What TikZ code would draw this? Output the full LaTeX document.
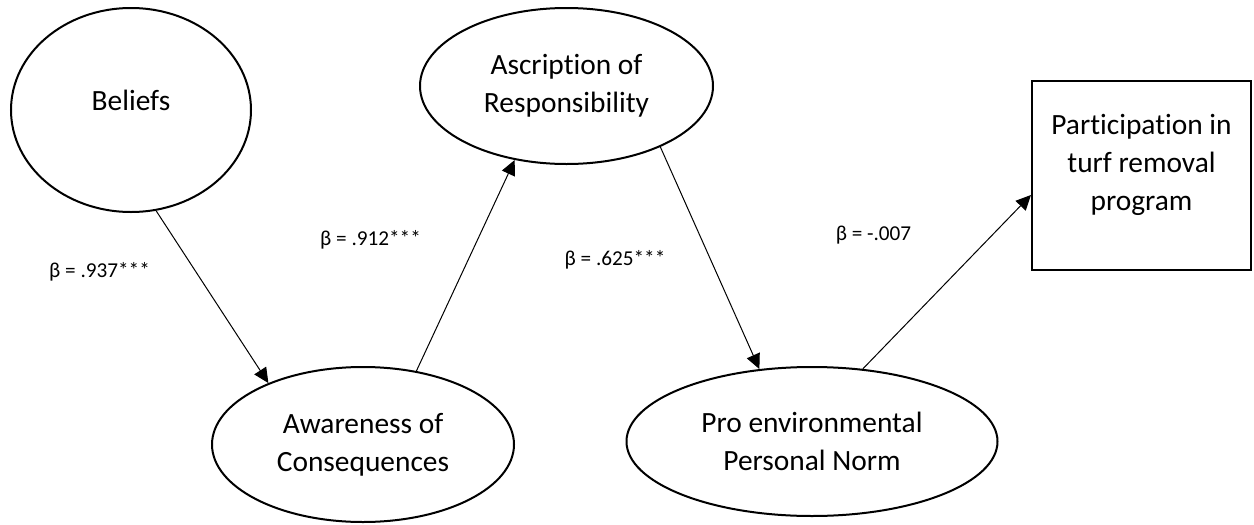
\documentclass[tikz,border=0pt]{standalone}
\usepackage{fontspec}
\setmainfont{Carlito}[Ligatures={NoCommon,NoContextual},RawFeature={-liga;-clig;-dlig}]
\usetikzlibrary{shapes.geometric,arrows.meta}
\begin{document}
\begin{tikzpicture}[x=0.5pt,y=-0.5pt,
  latent/.style={ellipse,draw,line width=1pt,inner sep=0pt,align=center,font=\fontsize{14.7}{19}\selectfont},
  obs/.style={rectangle,draw,line width=1pt,inner sep=0pt},
  txt/.style={align=center,font=\fontsize{14.7}{19}\selectfont,inner sep=0pt},
  coef/.style={font=\fontsize{10.6}{13}\selectfont,inner sep=0pt},
  conn/.style={line width=0.5pt,-{Triangle[length=7.5pt,width=7pt]}}]
\useasboundingbox (0,0) rectangle (1254,525);
\node[latent,minimum width=120pt,minimum height=102pt] (bel) at (131,110) {};
\node[txt] (beltxt) at (131,100) {Beliefs};
\node[latent,minimum width=146.5pt,minimum height=78pt] (asc) at (566.5,86) {Ascription of\\Responsibility};
\node[latent,minimum width=151pt,minimum height=77.5pt] (aw) at (363,444.5) {Awareness of\\Consequences};
\node[latent,minimum width=185.5pt,minimum height=74.5pt] (pro) at (812,441.5) {Pro environmental\\Personal Norm};
\node[obs,minimum width=109.5pt,minimum height=94.5pt] (box) at (1141.5,175.5) {};
\node[txt] (boxtxt) at (1141.5,165) {Participation in\\turf removal\\program};
\draw[conn] (bel.-76.5) -- (aw.147.2);
\draw[conn] (aw.54) -- (asc.-125.9);
\draw[conn] (asc.-33.6) -- (pro.126.8);
\draw[conn] (pro.55.3) -- (box.190);
\node[coef] (c1) at (99.5,272) {β = .937***};
\node[coef] (c2) at (370.5,240) {β = .912***};
\node[coef] (c3) at (615,260) {β = .625***};
\node[coef] (c4) at (873.5,235) {β = -.007};
\end{tikzpicture}
\end{document}
